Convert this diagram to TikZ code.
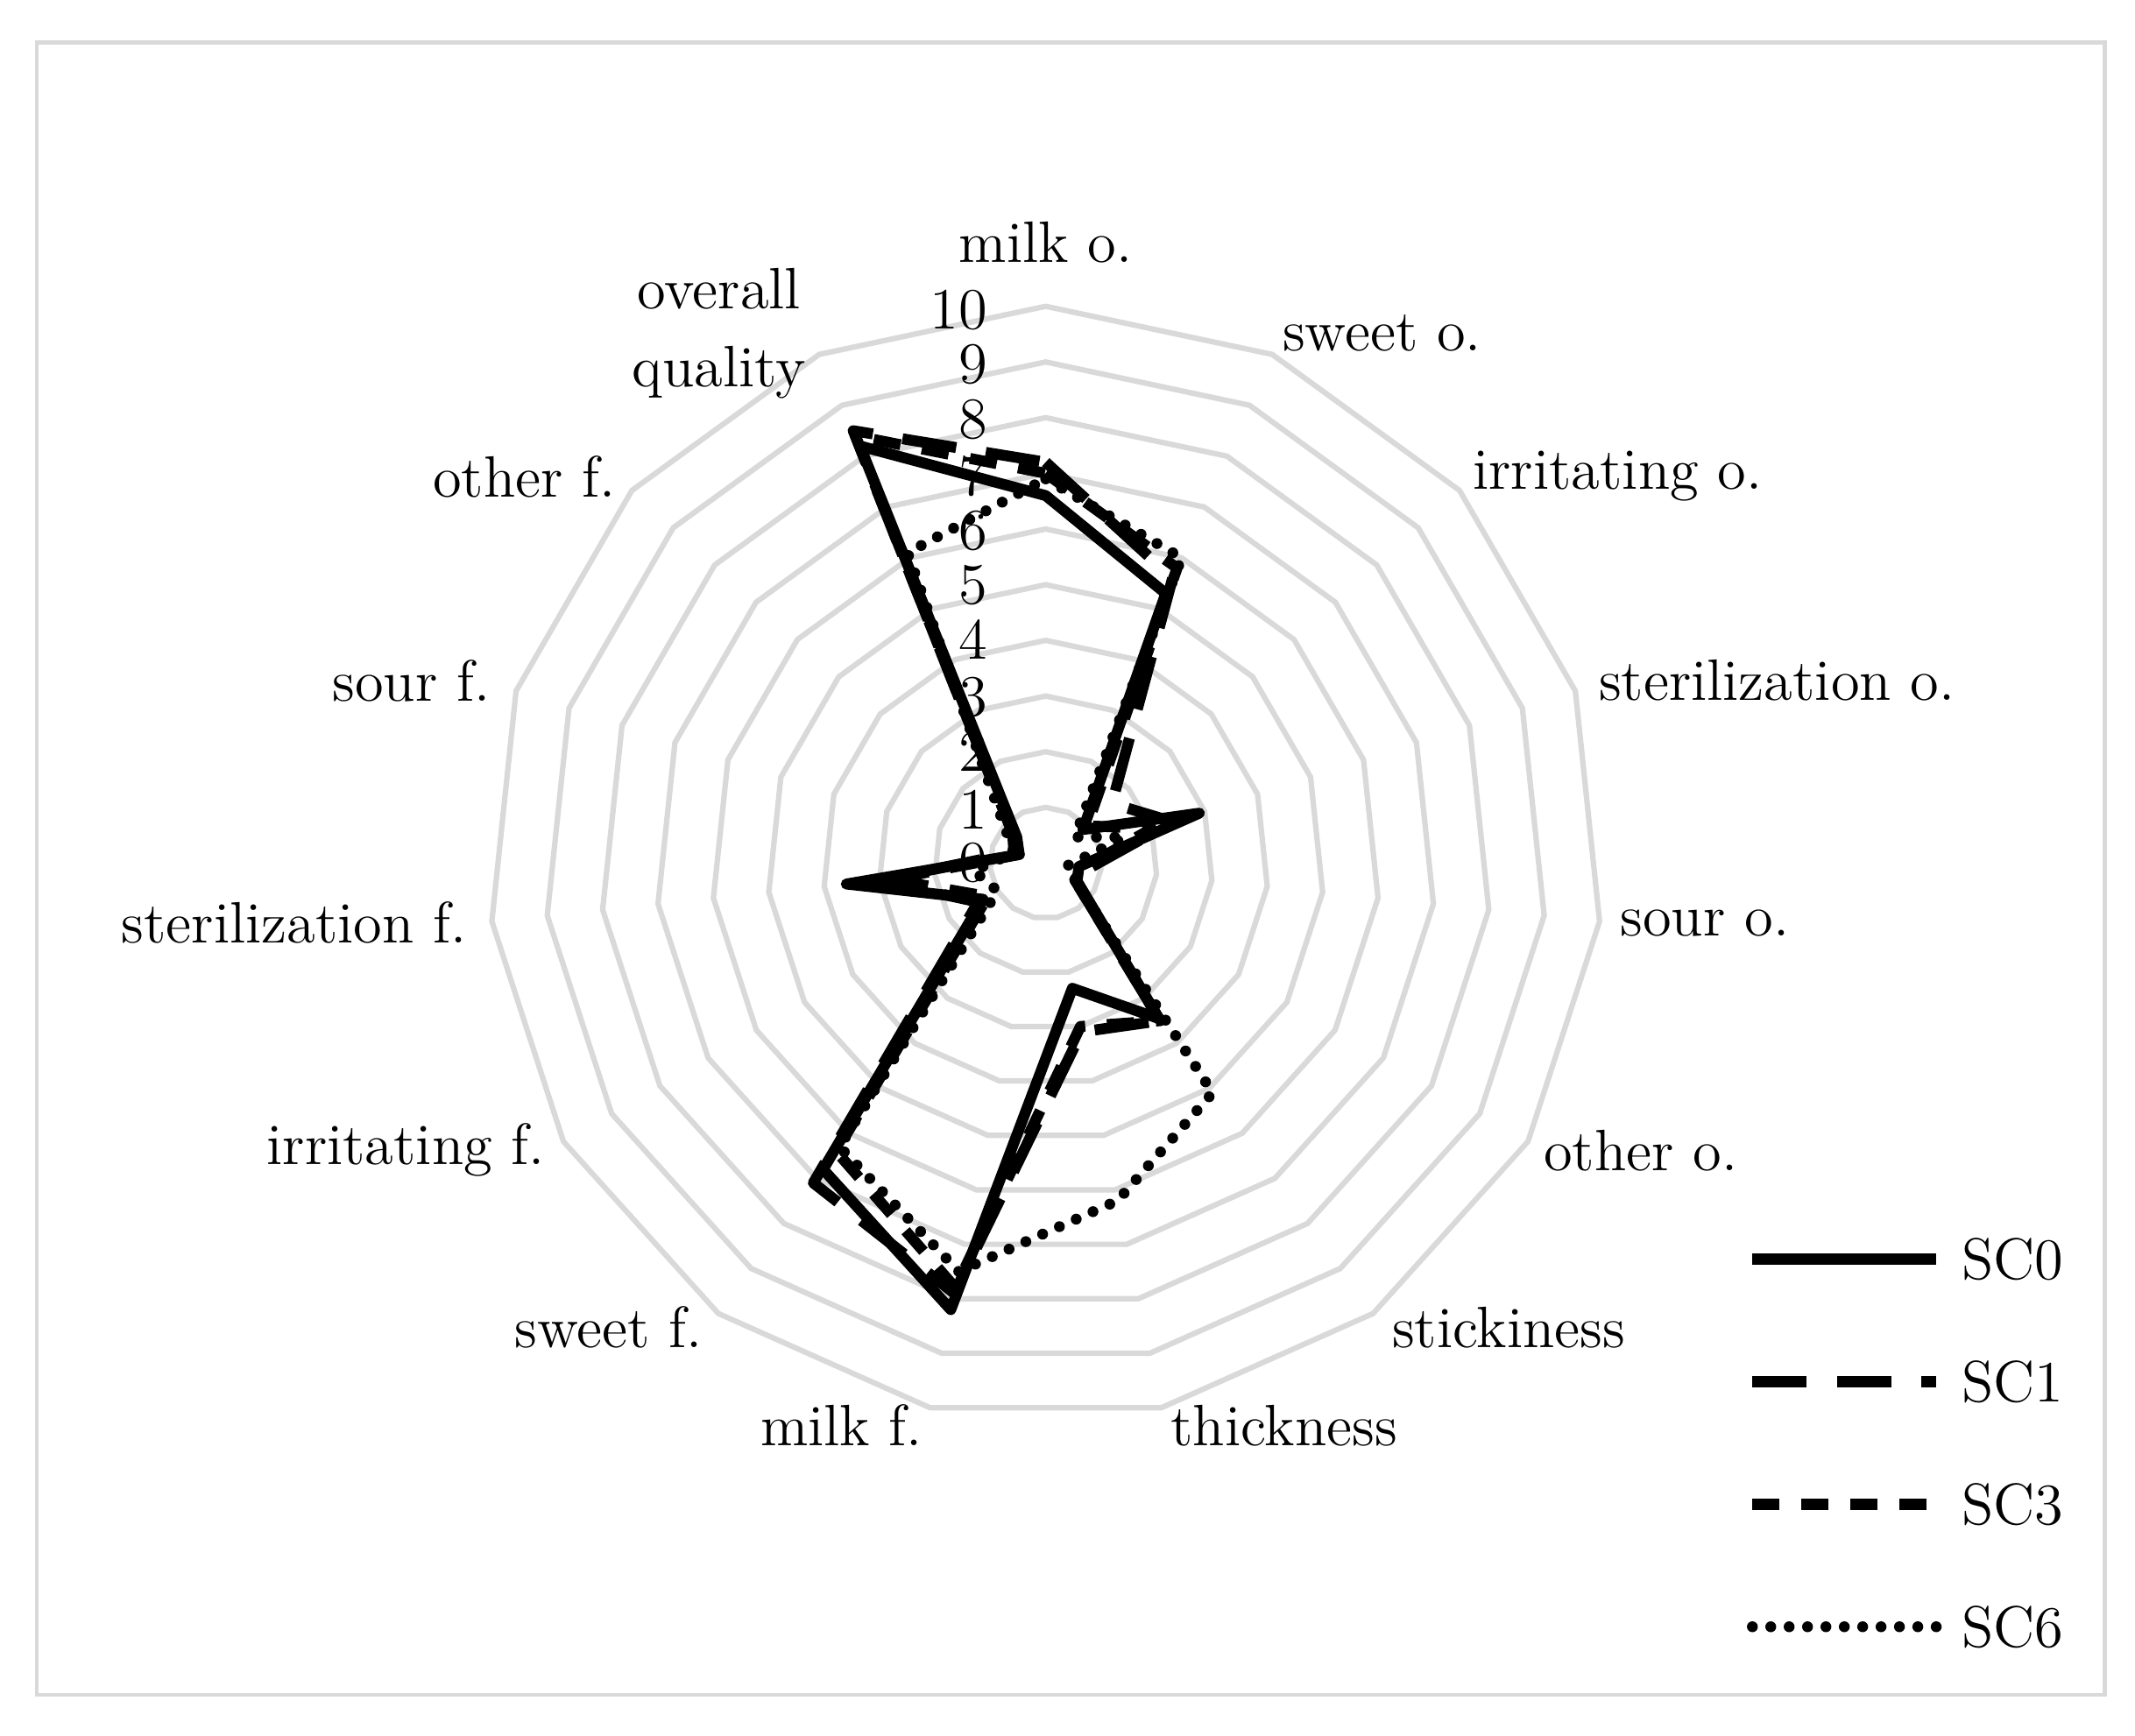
\documentclass[tikz,border=0pt]{standalone}
\usetikzlibrary{calc}
\begin{document}
\begin{tikzpicture}[x=0.1mm,y=-0.1mm,
  grid/.style={draw={rgb,255:red,217;green,217;blue,217},line width=0.4mm,line join=miter},
  ser/.style={line width=0.8mm,line join=round},
  sc0/.style={ser},
  sc1/.style={ser,dash pattern=on 4mm off 2.2mm},
  sc3/.style={ser,dash pattern=on 2mm off 1.6mm},
  sc6/.style={ser,line cap=round,dash pattern=on 0pt off 1.35mm},
  lab/.style={font=\fontsize{12.2}{14}\selectfont,inner sep=0pt},
  val/.style={font=\fontsize{12.2}{14}\selectfont,inner sep=0pt,anchor=east}]
\useasboundingbox (0,0) rectangle (1568,1275);
\draw[grid,line width=0.3mm] (27,31) rectangle (1546,1245);
\coordinate (O) at (768,634);
\foreach \k in {1,...,10}{
  \draw[grid] ($(O)+(-90:40.9*\k)$) \foreach \i in {1,...,14}{ -- ($(O)+(\i*24-90:40.9*\k)$)} -- cycle;
}
\foreach \k/\y in {0/634,1/595,2/552,3/512,4/470,5/430,6/390,7/350,8/308,9/268,10/228}{
  \node[val] (v\k) at (726,\y) {\k};
}
% axis labels
\node[lab] (l0) at (768,178) {milk o.};
\node[lab] (l1) at (1015,245) {sweet o.};
\node[lab] (l2) at (1188,350) {irritating o.};
\node[lab] (l3) at (1305,500) {sterilization o.};
\node[lab] (l4) at (1252,678) {sour o.};
\node[lab] (l5) at (1205,845) {other o.};
\node[lab] (l6) at (1108,975) {stickiness};
\node[lab] (l7) at (943,1047) {thickness};
\node[lab] (l8) at (618,1047) {milk f.};
\node[lab] (l9) at (447,975) {sweet f.};
\node[lab] (l10) at (298,845) {irritating f.};
\node[lab] (l11) at (216,678) {sterilization f.};
\node[lab] (l12) at (302,500) {sour f.};
\node[lab] (l13) at (385,350) {other f.};
\node[lab,align=center] (l14) at (528,245) {overall\\[0.8mm]quality};
% data
\newcommand\mkseries[2]{%
  \foreach \v [count=\i from 0] in {#2}{\coordinate (#1-\i) at ($(O)+(\i*24-90:40.9*\v)$);}}
\mkseries{a}{6.6,5.3,0.9,2.9,0.6,0.65,3.45,2.3,8.2,6.8,1.3,3.6,0.5,0.7,8.2}
\mkseries{b}{7.2,5.6,1.6,2.4,0.8,0.6,3.5,3.1,7.9,7.1,1.4,3.0,0.6,0.8,8.5}
\mkseries{c}{7.0,5.8,1.0,2.0,0.7,0.6,3.5,3.0,7.8,6.4,1.2,2.8,0.5,0.8,8.4}
\mkseries{d}{6.9,6.0,0.7,1.5,0.4,0.6,5.1,6.2,7.5,6.3,1.0,1.3,0.6,1.0,6.1}
\draw[sc6] (d-0) \foreach \i in {1,...,14}{ -- (d-\i)} -- cycle;
\draw[sc3] (c-0) \foreach \i in {1,...,14}{ -- (c-\i)} -- cycle;
\draw[sc1] (b-0) \foreach \i in {1,...,14}{ -- (b-\i)} -- cycle;
\draw[sc0] (a-0) \foreach \i in {1,...,14}{ -- (a-\i)} -- cycle;
% legend
\foreach \n/\s/\y in {0/sc0/925,1/sc1/1015,3/sc3/1105,6/sc6/1195}{
  \coordinate (g\n a) at (1287,\y);
  \node[lab,anchor=west] (g\n) at (1440,\y) {SC\n};
  \draw[\s] (g\n a) -- ($(g\n.west)+(-18,0)$);
}
\end{tikzpicture}
\end{document}
